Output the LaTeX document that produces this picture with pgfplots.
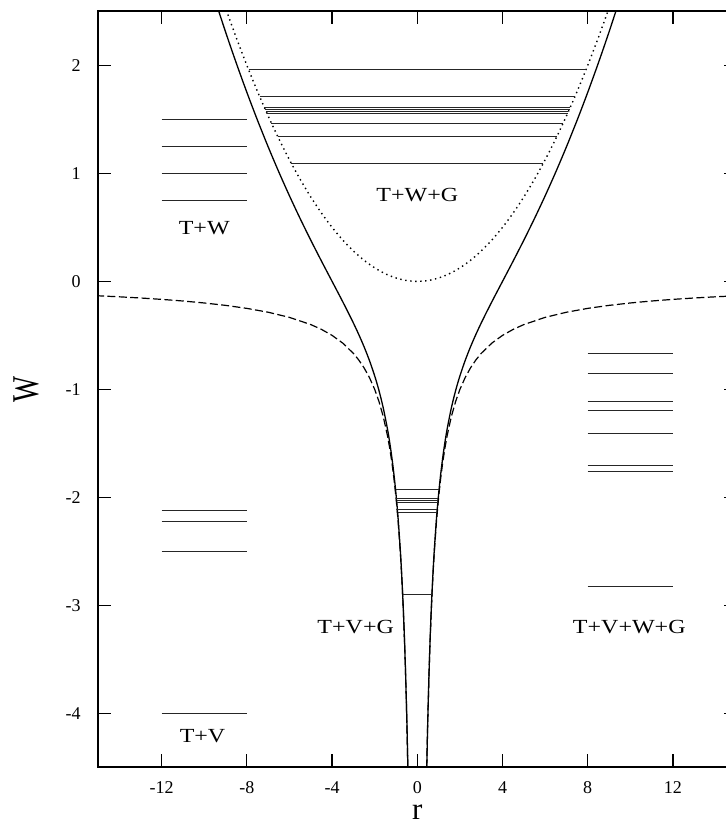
\documentclass[border=0pt]{standalone}
\usepackage{fontspec}
\setmainfont{Liberation Serif}
\usepackage{graphicx}
\usepackage{pgfplots}
\pgfplotsset{compat=1.18}
\usepackage{pgfplotstable}

% dashed curve, right branch (left branch is its mirror image)
\pgfplotstableread{
r W
0.4444 -4.5
0.46 -4.3478
0.48 -4.1667
0.5 -4
0.55 -3.6364
0.6 -3.3333
0.65 -3.0769
0.7 -2.8571
0.75 -2.6667
0.8 -2.5
0.9 -2.2222
1.0 -2
1.1 -1.8182
1.2 -1.6667
1.3 -1.5385
1.4 -1.4286
1.6 -1.25
1.8 -1.1111
2.0 -1
2.25 -0.8889
2.5 -0.8
2.75 -0.7273
3.0 -0.6667
3.5 -0.5714
4.0 -0.5
4.5 -0.4444
5 -0.4
6 -0.3333
7 -0.2857
8 -0.25
9 -0.2222
10 -0.2
11 -0.1818
12 -0.1667
13 -0.1538
14 -0.1429
15 -0.1333
}\dashtab

% solid curve, right branch
\pgfplotstableread{
r W
0.44 -4.5394
0.46 -4.3412
0.48 -4.1595
0.5 -3.992
0.55 -3.6269
0.6 -3.3221
0.65 -3.0637
0.7 -2.8418
0.75 -2.6491
0.8 -2.48
0.9 -2.1969
1.0 -1.9688
1.1 -1.7804
1.2 -1.6217
1.3 -1.4856
1.4 -1.3673
1.6 -1.17
1.8 -1.0099
2.0 -0.875
2.25 -0.7307
2.5 -0.6047
2.75 -0.4909
3.0 -0.3854
3.25 -0.2853
3.5 -0.1886
3.75 -0.0938
4.0 0
4.5 0.1884
5.0 0.3813
5.5 0.5817
6.0 0.7917
6.5 1.0126
7.0 1.2455
7.5 1.4911
8.0 1.75
8.5 2.0225
9.0 2.309
9.5 2.6098
}\solidtab

% dotted curve
\pgfplotstableread{
r W
-9.5 2.8203
-9 2.5313
-8.5 2.2578
-8 2.0
-7.5 1.7578
-7 1.5313
-6.5 1.3203
-6 1.125
-5.5 0.9453
-5 0.7813
-4.5 0.6328
-4 0.5
-3.5 0.3828
-3 0.2813
-2.5 0.1953
-2 0.125
-1.5 0.0703
-1 0.0313
-0.5 0.0078
0 0
0.5 0.0078
1 0.0313
1.5 0.0703
2 0.125
2.5 0.1953
3 0.2813
3.5 0.3828
4 0.5
4.5 0.6328
5 0.7813
5.5 0.9453
6 1.125
6.5 1.3203
7 1.5313
7.5 1.7578
8 2.0
8.5 2.2578
9 2.5313
9.5 2.8203
}\dottab

\begin{document}
\begin{tikzpicture}
\begin{axis}[
  scale only axis,
  width=319.5pt, height=378pt,
  xmin=-15, xmax=15, ymin=-4.5, ymax=2.5,
  xtick={-12,-8,-4,0,4,8,12},
  xticklabels={-12,-8,-4,0,4,8,12},
  ytick={-4,-3,-2,-1,0,1,2},
  yticklabels={-4,-3,-2,-1,0,1,2},
  tick align=inside,
  major tick length=6.5pt,
  every tick/.style={black, line width=0.6pt},
  axis line style={line width=1pt},
  tick label style={font=\fontsize{9}{10}\selectfont},
  xticklabel style={yshift=-3.5pt},
  yticklabel style={xshift=-5pt},
  xlabel={r},
  ylabel={\scalebox{1}[1.37]{W}},
  xlabel style={at={(axis description cs:0.5,-0.0685)}, anchor=base, inner sep=0pt, font=\fontsize{15.5}{16}\selectfont},
  ylabel style={at={(axis description cs:-0.1122,0.5)}, anchor=center, font=\fontsize{13.8}{15}\selectfont},
  lev/.style={black!85, line width=0.5pt},
  curve/.style={black, line width=0.65pt},
]
\coordinate (BL) at (rel axis cs:0,0);
\coordinate (TR) at (rel axis cs:1,1);

% curves
\addplot[curve, smooth] table[x=r, y=W] {\solidtab};
\addplot[curve, smooth] table[x expr=-\thisrow{r}, y=W] {\solidtab};
\addplot[black, line width=0.6pt, dash pattern=on 4pt off 1.7pt] table[x=r, y=W] {\dashtab};
\addplot[black, line width=0.6pt, dash pattern=on 4pt off 1.7pt] table[x expr=-\thisrow{r}, y=W] {\dashtab};
\addplot[black, line width=0.7pt, dash pattern=on 0.7pt off 1.8pt, smooth] table[x=r, y=W] {\dottab};

% T+W levels
\addplot[lev] coordinates {(-12,1.5) (-8,1.5)};
\addplot[lev] coordinates {(-12,1.25) (-8,1.25)};
\addplot[lev] coordinates {(-12,1.0) (-8,1.0)};
\addplot[lev] coordinates {(-12,0.75) (-8,0.75)};

% T+W+G levels
\addplot[lev] coordinates {(-7.92,1.96) (7.92,1.96)};
\addplot[lev] coordinates {(-7.402,1.712) (7.402,1.712)};
\addplot[lev] coordinates {(-7.178,1.61) (7.178,1.61)};
\addplot[lev] coordinates {(-7.144,1.595) (7.144,1.595)};
\addplot[lev] coordinates {(-7.088,1.57) (7.088,1.57)};
\addplot[lev] coordinates {(-7.054,1.555) (7.054,1.555)};
\addplot[lev] coordinates {(-6.845,1.464) (6.845,1.464)};
\addplot[lev] coordinates {(-6.553,1.342) (6.553,1.342)};
\addplot[lev] coordinates {(-5.911,1.092) (5.911,1.092)};

% T+V levels
\addplot[lev] coordinates {(-12,-2.12) (-8,-2.12)};
\addplot[lev] coordinates {(-12,-2.219) (-8,-2.219)};
\addplot[lev] coordinates {(-12,-2.5) (-8,-2.5)};
\addplot[lev] coordinates {(-12,-4.0) (-8,-4.0)};

% T+V+W+G levels
\addplot[lev] coordinates {(8,-0.67) (12,-0.67)};
\addplot[lev] coordinates {(8,-0.85) (12,-0.85)};
\addplot[lev] coordinates {(8,-1.108) (12,-1.108)};
\addplot[lev] coordinates {(8,-1.198) (12,-1.198)};
\addplot[lev] coordinates {(8,-1.411) (12,-1.411)};
\addplot[lev] coordinates {(8,-1.70) (12,-1.70)};
\addplot[lev] coordinates {(8,-1.759) (12,-1.759)};
\addplot[lev] coordinates {(8,-2.828) (12,-2.828)};

% T+V+G levels
\addplot[lev] coordinates {(-1.0226,-1.923) (1.0226,-1.923)};
\addplot[lev] coordinates {(-0.9804,-2.01) (0.9804,-2.01)};
\addplot[lev] coordinates {(-0.9711,-2.03) (0.9711,-2.03)};
\addplot[lev] coordinates {(-0.962,-2.05) (0.962,-2.05)};
\addplot[lev] coordinates {(-0.9336,-2.115) (0.9336,-2.115)};
\addplot[lev] coordinates {(-0.9231,-2.14) (0.9231,-2.14)};
\addplot[lev] coordinates {(-0.6862,-2.90) (0.6862,-2.90)};

% region labels
\node[font=\fontsize{10}{12}\selectfont] at (axis cs:-10,0.49) {\scalebox{1.2}[1]{T+W}};
\node[font=\fontsize{10}{12}\selectfont] at (axis cs:0,0.80) {\scalebox{1.2}[1]{T+W+G}};
\node[font=\fontsize{10}{12}\selectfont] at (axis cs:-10.08,-4.21) {\scalebox{1.2}[1]{T+V}};
\node[font=\fontsize{10}{12}\selectfont] at (axis cs:9.95,-3.20) {\scalebox{1.2}[1]{T+V+W+G}};
\node[font=\fontsize{10}{12}\selectfont, anchor=east, inner sep=0pt] at (axis cs:-1.08,-3.2) {\scalebox{1.2}[1]{T+V+G}};
\end{axis}
\pgfresetboundingbox
\path ([shift={(-48.85pt,-27.75pt)}]BL) rectangle ([shift={(-5.5pt,5.65pt)}]TR);
\end{tikzpicture}
\end{document}
